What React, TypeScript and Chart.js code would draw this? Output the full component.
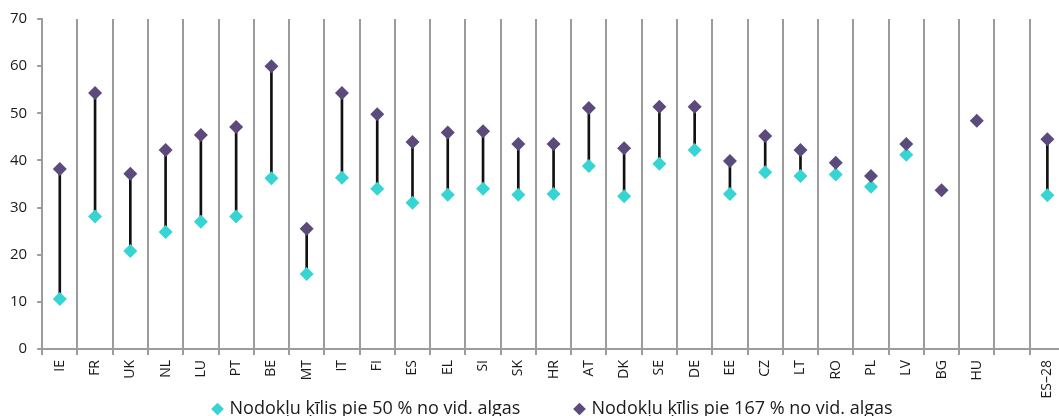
import React, { useEffect, useRef } from 'react';
import { Chart, registerables } from 'chart.js';

Chart.register(...registerables);

const categories = ['IE', 'FR', 'UK', 'NL', 'LU', 'PT', 'BE', 'MT', 'IT', 'FI', 'ES', 'EL', 'SI', 'SK', 'HR', 'AT', 'DK', 'SE', 'DE', 'EE', 'CZ', 'LT', 'RO', 'PL', 'LV', 'BG', 'HU', '', 'ES–28'];
const low50: (number | null)[] = [10.6, 28.1, 20.8, 24.8, 27.0, 28.1, 36.2, 15.9, 36.3, 34.0, 31.0, 32.7, 34.0, 32.7, 32.9, 38.8, 32.4, 39.3, 42.2, 32.9, 37.5, 36.7, 37.0, 34.4, 41.2, null, null, null, 32.6];
const high167: (number | null)[] = [38.2, 54.3, 37.2, 42.2, 45.4, 47.1, 60.0, 25.5, 54.3, 49.8, 43.9, 45.9, 46.2, 43.5, 43.5, 51.1, 42.6, 51.4, 51.4, 39.9, 45.2, 42.2, 39.5, 36.7, 43.5, 33.7, 48.4, null, 44.5];
const seriesNames = ['Nodokļu ķīlis pie 50 % no vid. algas', 'Nodokļu ķīlis pie 167 % no vid. algas'];
const yTicks = [0, 10, 20, 30, 40, 50, 60, 70];

const CYAN = '#36D4D2';
const PURPLE = '#5C4A7D';
const GRID = '#9c9c9c';
const TEXT = '#1a1a1a';
const FONT = '"Open Sans", sans-serif';

export default function App() {
  const ref = useRef<HTMLCanvasElement | null>(null);
  useEffect(() => {
    document.body.style.margin = '0';
    const connectors = categories.map((_, i) =>
      low50[i] != null && high167[i] != null ? [low50[i] as number, high167[i] as number] : null
    );
    const chart = new Chart(ref.current!, {
      type: 'bar',
      data: {
        labels: categories,
        datasets: [
          {
            type: 'line',
            label: seriesNames[0],
            data: low50,
            showLine: false,
            pointStyle: 'rectRot',
            pointRadius: 7,
            pointBorderWidth: 0,
            backgroundColor: CYAN,
            borderColor: CYAN,
            order: 1,
          } as any,
          {
            type: 'line',
            label: seriesNames[1],
            data: high167,
            showLine: false,
            pointStyle: 'rectRot',
            pointRadius: 7,
            pointBorderWidth: 0,
            backgroundColor: PURPLE,
            borderColor: PURPLE,
            order: 0,
          } as any,
          {
            type: 'bar',
            label: 'connector',
            data: connectors as any,
            backgroundColor: '#111111',
            barThickness: 2,
            order: 2,
          } as any,
        ],
      },
      options: {
        responsive: false,
        animation: false,
        layout: { padding: { left: 0, right: 0, top: 11, bottom: -12 } },
        plugins: {
          tooltip: { enabled: false },
          legend: {
            position: 'bottom',
            fullSize: false,
            labels: {
              usePointStyle: true,
              pointStyle: 'rectRot',
              boxWidth: 6,
              boxHeight: 9,
              padding: 0,
              color: TEXT,
              font: { family: FONT, size: 18 },
              generateLabels: (chart: any) => {
                const items = Chart.defaults.plugins.legend.labels.generateLabels(chart);
                return items
                  .filter((it: any) => it.datasetIndex !== 2)
                  .sort((a: any, b: any) => a.datasetIndex - b.datasetIndex)
                  .map((it: any, idx: number) => ({
                    ...it,
                    text: idx === 0 ? it.text + '\u00a0'.repeat(12) : it.text,
                  }));
              },
            },
          },
        },
        scales: {
          x: {
            offset: true,
            afterFit: (axis: any) => {
              axis.paddingRight = 0;
              axis.paddingLeft = 0;
              axis.height = 51;
            },
            grid: {
              display: true,
              offset: true,
              color: GRID,
              lineWidth: 2,
              drawOnChartArea: true,
              drawTicks: true,
              tickLength: 6,
            },
            border: { display: true, color: GRID, width: 2 },
            ticks: {
              minRotation: 90,
              maxRotation: 90,
              autoSkip: false,
              padding: 5,
              color: TEXT,
              font: { family: FONT, size: 14 },
            },
          },
          y: {
            min: 0,
            max: 70,
            afterBuildTicks: (axis: any) => {
              axis.ticks = yTicks.map((v) => ({ value: v }));
            },
            grid: {
              display: true,
              drawOnChartArea: false,
              drawTicks: true,
              tickLength: 5,
              color: GRID,
              lineWidth: 2,
            },
            border: { display: true, color: GRID, width: 2 },
            ticks: {
              padding: 10,
              color: TEXT,
              font: { family: FONT, size: 15 },
            },
          },
        },
      },
    });
    return () => chart.destroy();
  }, []);
  return (
    <div style={{ width: 1059, height: 416, overflow: 'hidden' }}>
      <canvas ref={ref} width={1072} height={416} style={{ display: 'block' }} />
    </div>
  );
}
